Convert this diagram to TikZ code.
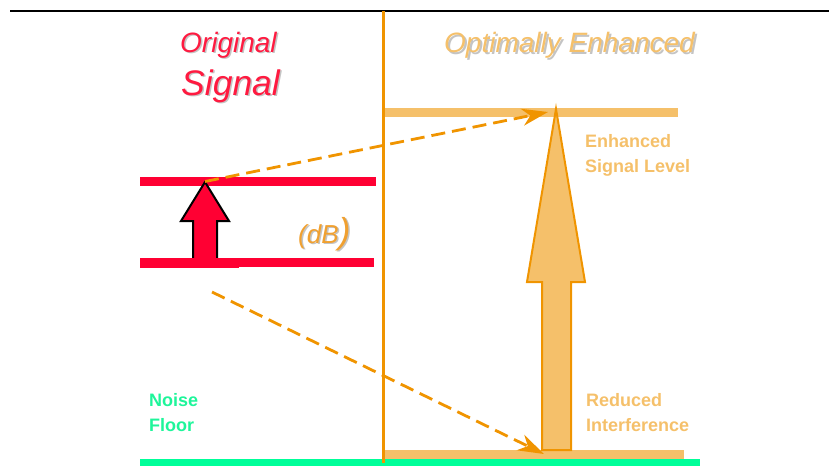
\documentclass[tikz,border=0pt]{standalone}
\usepackage{fontspec}
\setmainfont{Liberation Sans}
\usetikzlibrary{arrows.meta}
\definecolor{sigred}{HTML}{FF0033}
\definecolor{titlered}{HTML}{FF1A40}
\definecolor{lightorange}{HTML}{F5C06A}
\definecolor{deeporange}{HTML}{F09400}
\definecolor{dbtext}{HTML}{F0A030}
\definecolor{noisegreen}{HTML}{00FF99}
\definecolor{greentext}{HTML}{1EF59A}
\definecolor{shade}{HTML}{C4C4C4}
\tikzset{
  title/.style={anchor=base west, inner sep=0pt, font=\fontsize{28}{30}\selectfont\itshape},
  bigtitle/.style={anchor=base west, inner sep=0pt, font=\fontsize{35.5}{37}\selectfont\itshape},
  dbnote/.style={anchor=base west, inner sep=0pt, font=\fontsize{26}{28}\selectfont\itshape},
  label/.style={anchor=base west, inner sep=0pt, font=\fontsize{18}{20}\selectfont\bfseries},
  redbar/.style={draw=sigred, line width=9pt},
  orangebar/.style={draw=lightorange, line width=9pt},
  dasharrow/.style={draw=deeporange, line width=2.8pt, dash pattern=on 14pt off 7pt,
    -{Stealth[length=26pt,width=17pt,inset=8pt]}},
  blockarrow/.style={line width=2pt, line join=miter}
}
\begin{document}
\begin{tikzpicture}[x=1pt,y=-1pt]
\useasboundingbox (0,0) rectangle (829,466);

% frame lines
\coordinate (tl) at (10,11);
\coordinate (tr) at (829,11);
\coordinate (vt) at (383.5,11);
\coordinate (vb) at (383.5,463);
\draw[black, line width=2pt] (tl) -- (tr);

% noise floor
\coordinate (g1) at (140,462.5);
\coordinate (g2) at (700,462.5);
\draw[noisegreen, line width=7pt] (g1) -- (g2);

% enhanced levels
\coordinate (e1) at (383,112.5);
\coordinate (e2) at (678,112.5);
\coordinate (i1) at (383,454.5);
\coordinate (i2) at (684,454.5);
\draw[orangebar] (e1) -- (e2);
\draw[orangebar] (i1) -- (i2);

% divider
\draw[deeporange, line width=2.5pt] (vt) -- (vb);

% original signal levels
\coordinate (r1) at (140,181.5);
\coordinate (r2) at (376,181.5);
\draw[redbar] (r1) -- (r2);

% red block arrow
\draw[blockarrow, draw=black, fill=sigred]
  (193,262) -- (193,221) -- (181,221) -- (205,182) -- (229,221) -- (217,221) -- (217,262);

\coordinate (r3) at (140,263);
\coordinate (r4) at (239,263);
\coordinate (r5) at (239,262);
\coordinate (r6) at (374,262);
\draw[sigred, line width=10pt] (r3) -- (r4);
\draw[redbar] (r5) -- (r6);

% enhanced block arrow
\draw[blockarrow, draw=deeporange, fill=lightorange]
  (542,450) -- (542,282) -- (527,282) -- (556,109) -- (585,282) -- (571,282) -- (571,450) -- cycle;

% mapping arrows
\coordinate (srcA) at (205,181.5);
\coordinate (dstA) at (548,112);
\coordinate (srcB) at (212,292);
\coordinate (dstB) at (544,454);
\draw[dasharrow] (srcA) -- (dstA);
\draw[dasharrow] (srcB) -- (dstB);

% titles with drop shadows
\node[title, text=shade] (origS) at (181.5,53.5) {Original};
\node[title, text=titlered] (orig) at (180,52) {Original};
\node[bigtitle, text=shade] (sigS) at (182.5,96.5) {Signal};
\node[bigtitle, text=titlered] (sig) at (181,95) {Signal};
\node[title, text=shade] (optS) at (446,54.5) {Optimally Enhanced};
\node[title, text=lightorange] (opt) at (444,52.5) {Optimally Enhanced};

% decibel note
\node[dbnote, text=shade] (dbS) at (299.5,244.5) {(dB\fontsize{36}{36}\selectfont)};
\node[dbnote, text=dbtext] (db) at (298,243) {(dB\fontsize{36}{36}\selectfont)};

% side labels
\node[label, text=lightorange] (enh1) at (585,147) {Enhanced};
\node[label, text=lightorange] (enh2) at (585,172) {Signal Level};
\node[label, text=lightorange] (red1) at (586,406.5) {Reduced};
\node[label, text=lightorange] (red2) at (586,431.5) {Interference};
\node[label, text=greentext] (nf1) at (149,406.5) {Noise};
\node[label, text=greentext] (nf2) at (149,431.5) {Floor};
\end{tikzpicture}
\end{document}
